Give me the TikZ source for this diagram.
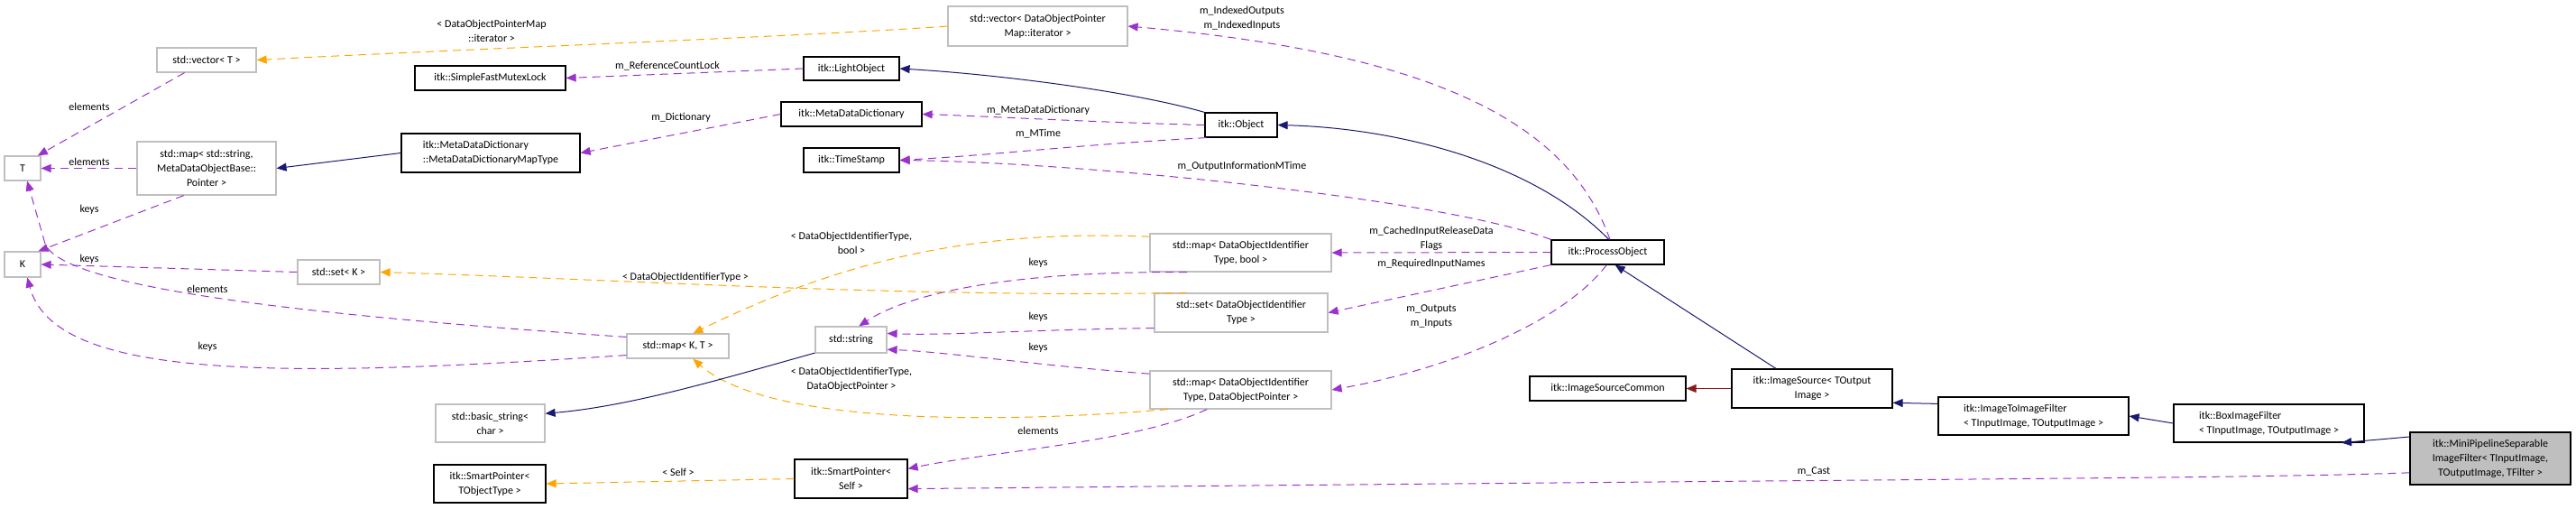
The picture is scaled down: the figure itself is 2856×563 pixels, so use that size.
\documentclass[tikz,border=0pt]{standalone}
\usepackage{fontspec}
\setmainfont{Carlito}
\usetikzlibrary{arrows.meta}
\definecolor{purp}{HTML}{9A32CD}
\definecolor{orng}{HTML}{FFA500}
\definecolor{navy}{HTML}{191970}
\definecolor{dred}{HTML}{8B1A1A}
\definecolor{gbox}{HTML}{BFBFBF}
\tikzset{
  box/.style={draw=black,line width=1.2pt,fill=white,inner sep=0pt,align=center,font=\fontsize{12}{16}\selectfont},
  gbx/.style={box,draw=gbox},
  lab/.style={inner sep=0pt,align=center,font=\fontsize{12}{16}\selectfont},
  tip/.style={-{Triangle[length=11pt,width=9pt]}},
  use/.style={tip,purp,dashed,dash pattern=on 9pt off 6pt,line width=1pt},
  tpl/.style={tip,orng,dashed,dash pattern=on 9pt off 6pt,line width=1pt},
  inh/.style={tip,navy,line width=1pt},
  prot/.style={tip,dred,line width=1pt},
}
\begin{document}
\begin{tikzpicture}[x=1pt,y=-1pt]
\useasboundingbox (0,0) rectangle (2856,563);
% nodes
\node[gbx,minimum width=110,minimum height=27] (vecT) at (229,66.5) {std::vector< T >};
\node[box,minimum width=167,minimum height=27] (sfml) at (543.5,86.5) {itk::SimpleFastMutexLock};
\node[gbx,minimum width=40,minimum height=27] (T) at (25,186.5) {T};
\node[gbx,minimum width=154,minimum height=59] (mapStr) at (229,186.5) {std::map< std::string,\\MetaDataObjectBase::\\Pointer >};
\node[box,minimum width=198,minimum height=43,align=left] (mddmap) at (544,169.5) {itk::MetaDataDictionary\\::MetaDataDictionaryMapType};
\node[gbx,minimum width=40,minimum height=28] (K) at (25,293) {K};
\node[gbx,minimum width=91,minimum height=27] (setK) at (375.5,301.5) {std::set< K >};
\node[gbx,minimum width=121,minimum height=42] (bstr) at (543.5,469) {std::basic\_string<\\char >};
\node[box,minimum width=124,minimum height=42] (spT) at (543,536) {itk::SmartPointer<\\TObjectType >};
\node[gbx,minimum width=199,minimum height=44] (vecIt) at (1150.5,29) {std::vector< DataObjectPointer\\Map::iterator >};
\node[box,minimum width=106,minimum height=26] (light) at (944,76) {itk::LightObject};
\node[box,minimum width=156,minimum height=27] (mdd) at (944,126.5) {itk::MetaDataDictionary};
\node[box,minimum width=106,minimum height=27] (ts) at (944,177.5) {itk::TimeStamp};
\node[box,minimum width=80,minimum height=27] (obj) at (1376,138.5) {itk::Object};
\node[gbx,minimum width=113,minimum height=27] (mapKT) at (751.5,383.5) {std::map< K, T >};
\node[gbx,minimum width=79,minimum height=29] (str) at (943.5,376.5) {std::string};
\node[gbx,minimum width=201,minimum height=42] (mapBool) at (1375.5,280) {std::map< DataObjectIdentifier\\Type, bool >};
\node[gbx,minimum width=192,minimum height=43] (setD) at (1376,346.5) {std::set< DataObjectIdentifier\\Type >};
\node[gbx,minimum width=201,minimum height=42] (mapDOP) at (1375.5,432) {std::map< DataObjectIdentifier\\Type, DataObjectPointer >};
\node[box,minimum width=125,minimum height=43] (spSelf) at (943.5,530.5) {itk::SmartPointer<\\Self >};
\node[box,minimum width=125,minimum height=27] (po) at (1782.5,279.5) {itk::ProcessObject};
\node[box,minimum width=173,minimum height=27] (isc) at (1782.5,430.5) {itk::ImageSourceCommon};
\node[box,minimum width=178,minimum height=43] (is) at (2009,430.5) {itk::ImageSource< TOutput\\Image >};
\node[box,minimum width=211,minimum height=42,align=left] (iti) at (2254.5,461) {itk::ImageToImageFilter\\< TInputImage, TOutputImage >};
\node[box,minimum width=211,minimum height=42,align=left] (bx) at (2515.5,469) {itk::BoxImageFilter\\< TInputImage, TOutputImage >};
\node[box,fill=lightgray,minimum width=178,minimum height=58] (mini) at (2761,508) {itk::MiniPipelineSeparable\\ImageFilter< TInputImage,\\TOutputImage, TFilter >};
% edges
\draw[tpl] (vecIt.west) .. controls (900,40) and (500,55) .. (vecT.east);
\draw[use] (light.west) -- (sfml.east);
\draw[inh] (obj.north west) .. controls (1250,100) and (1100,82) .. (light.east);
\draw[use] (mdd.west) -- (mddmap.east);
\draw[inh] (mddmap.west) -- (mapStr.east);
\draw[use] (obj.west) .. controls (1200,135) and (1100,129) .. (mdd.east);
\draw[use] (obj.200) .. controls (1200,160) and (1100,172) .. (ts.east);
\draw[use] (po.north west) .. controls (1600,220) and (1200,180) .. (ts.east);
\draw[inh] (po.85) .. controls (1700,180) and (1550,142) .. (obj.east);
\draw[use] (po.80) .. controls (1740,140) and (1600,60) .. (vecIt.east);
\draw[use] (po.west) -- (mapBool.east);
\draw[use] (po.south west) -- (setD.east);
\draw[use] (po.-95) .. controls (1730,360) and (1600,410) .. (mapDOP.east);
\draw[inh] (is.north) ++(-40,0) -- (po.-60);
\draw[prot] (is.west) -- (isc.east);
\draw[inh] (iti.north west) ++(0,8) -- (is.-10);
\draw[inh] (bx.west) -- (iti.east);
\draw[inh] (mini.165) -- (bx.-15);
\draw[use] (mini.190) .. controls (2500,530) and (2200,530) .. (spSelf.-10);
\draw[tpl] (spSelf.west) -- (spT.east);
\draw[use] (mapDOP.-150) .. controls (1260,490) and (1100,500) .. (spSelf.10);
\draw[use] (mapDOP.170) .. controls (1150,405) and (1050,390) .. (str.-15);
\draw[use] (setD.-170) .. controls (1150,365) and (1050,372) .. (str.10);
\draw[use] (mapBool.-160) .. controls (1100,300) and (1000,330) .. (str.60);
\draw[tpl] (mapDOP.-165) .. controls (1100,470) and (850,470) .. (mapKT.-40);
\draw[tpl] (mapBool.170) .. controls (1100,255) and (950,280) .. (mapKT.40);
\draw[tpl] (setD.160) .. controls (1000,330) and (700,310) .. (setK.east);
\draw[inh] (str.-160) .. controls (800,420) and (700,450) .. (bstr.10);
\draw[use] (vecT.-150) -- (T.40);
\draw[use] (mapStr.west) -- (T.east);
\draw[use] (mapStr.-130) -- (K.40);
\draw[use] (setK.west) -- (K.east);
\draw[use] (mapKT.170) .. controls (350,350) and (70,320) .. (50,270) -- (T.-70);
\draw[use] (mapKT.-170) .. controls (300,420) and (60,420) .. (K.-70);
% labels
\node[lab] (l1) at (545,34) {< DataObjectPointerMap\\::iterator >};
\node[lab] (l2) at (740,73) {m\_ReferenceCountLock};
\node[lab] (l3) at (755,130) {m\_Dictionary};
\node[lab] (l4) at (1151,122) {m\_MetaDataDictionary};
\node[lab] (l5) at (1151,148) {m\_MTime};
\node[lab] (l6) at (1377,184) {m\_OutputInformationMTime};
\node[lab] (l7) at (1377,20) {m\_IndexedOutputs\\m\_IndexedInputs};
\node[lab] (l8) at (1587,264) {m\_CachedInputReleaseData\\Flags};
\node[lab] (l9) at (1587,292) {m\_RequiredInputNames};
\node[lab] (l10) at (1587,351) {m\_Outputs\\m\_Inputs};
\node[lab] (l11) at (2011,522) {m\_Cast};
\node[lab] (l12) at (944,269) {< DataObjectIdentifierType,\\bool >};
\node[lab] (l13) at (760,307) {< DataObjectIdentifierType >};
\node[lab] (l14) at (1151,291) {keys};
\node[lab] (l15) at (1151,351) {keys};
\node[lab] (l16) at (1151,385) {keys};
\node[lab] (l17) at (944,420) {< DataObjectIdentifierType,\\DataObjectPointer >};
\node[lab] (l18) at (1151,477) {elements};
\node[lab] (l19) at (752,523) {< Self >};
\node[lab] (l20) at (99,118) {elements};
\node[lab] (l21) at (99,179) {elements};
\node[lab] (l22) at (99,232) {keys};
\node[lab] (l23) at (99,287) {keys};
\node[lab] (l24) at (230,320) {elements};
\node[lab] (l25) at (230,384) {keys};
\end{tikzpicture}
\end{document}
